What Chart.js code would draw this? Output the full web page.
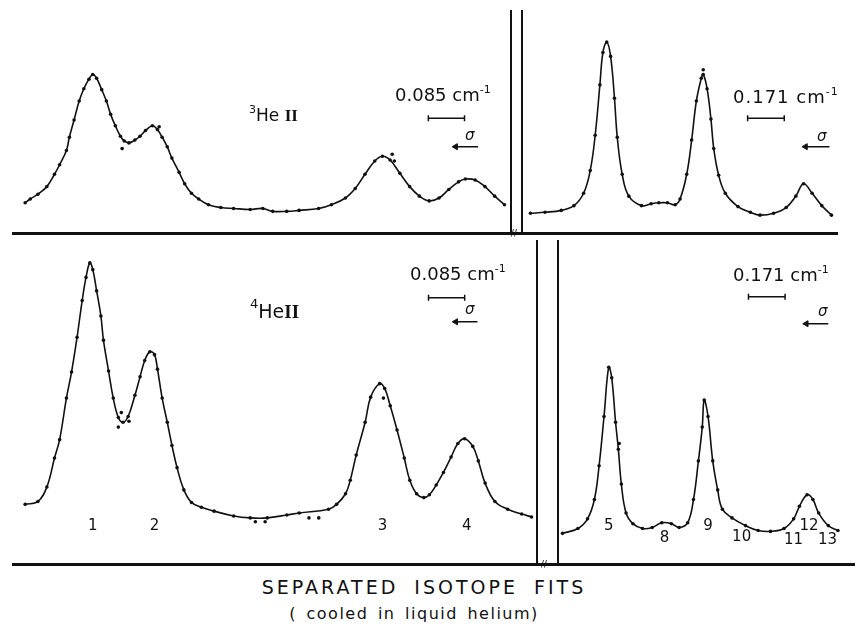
<!DOCTYPE html>
<html>
<head>
<meta charset="utf-8">
<script src="https://cdn.jsdelivr.net/npm/chart.js@4.4.0/dist/chart.umd.min.js"></script>
<style>
body { margin: 0; background: #fff; }
#fig { position: relative; width: 856px; height: 629px; overflow: hidden; font-family: "DejaVu Sans", sans-serif; color: #111; }
.panel { position: absolute; }
.rule { position: absolute; background: #111; }
.txt { position: absolute; white-space: nowrap; line-height: 1; }
.sup { position: relative; font-size: 11px; top: -8px; }
.rom { font-family: "Liberation Serif", serif; font-weight: bold; }
</style>
</head>
<body>
<div id="fig">
	<div class="panel" style="left:12px;top:10px;width:498px;height:223px"><canvas id="tl"></canvas></div>
	<div class="panel" style="left:523px;top:10px;width:315px;height:223px"><canvas id="tr"></canvas></div>
	<div class="panel" style="left:12px;top:240px;width:525px;height:323px"><canvas id="bl"></canvas></div>
	<div class="panel" style="left:557px;top:240px;width:298px;height:323px"><canvas id="br"></canvas></div>

	<!-- frame: axis lines and the scan breaks -->
	<div class="rule" style="left:12px;top:232px;width:826px;height:3px"></div>
	<div class="rule" style="left:12px;top:563px;width:843px;height:3px"></div>
	<div class="rule" style="left:510px;top:10px;width:2px;height:224px"></div>
	<div class="rule" style="left:521px;top:10px;width:2px;height:224px"></div>
	<div class="rule" style="left:536px;top:240px;width:2px;height:325px"></div>
	<div class="rule" style="left:557px;top:240px;width:2px;height:325px"></div>
	<div class="txt" style="left:511px;top:230px;font-size:8px;font-weight:bold">//</div>
	<div class="txt" style="left:541px;top:561px;font-size:8px;font-weight:bold">//</div>

	<div class="txt" style="left:249px;top:107px;font-size:17px"><span class="sup">3</span>He <span class="rom">II</span></div>
	<div class="txt" style="left:250px;top:302px;font-size:19px"><span class="sup" style="font-size:13px;top:-10px">4</span>He<span class="rom">II</span></div>

	<div class="txt" style="left:395px;top:86px;font-size:18px">0.085 cm<span class="sup">-1</span></div>
	<div class="txt" style="left:410px;top:265px;font-size:18px">0.085 cm<span class="sup">-1</span></div>
	<div class="txt" style="left:733px;top:88px;font-size:18px;letter-spacing:1px">0.171 cm<span class="sup">-1</span></div>
	<div class="txt" style="left:733px;top:266px;font-size:18px">0.171 cm<span class="sup">-1</span></div>

	<div class="txt" style="left:465px;top:128px;font-size:15px;font-style:italic">σ</div>
	<div class="txt" style="left:817px;top:129px;font-size:15px;font-style:italic">σ</div>
	<div class="txt" style="left:465px;top:302px;font-size:15px;font-style:italic">σ</div>
	<div class="txt" style="left:818px;top:304px;font-size:15px;font-style:italic">σ</div>

	<div class="txt" style="left:0;width:848px;text-align:center;top:578px;font-size:19px;letter-spacing:3px;word-spacing:7px">SEPARATED ISOTOPE FITS</div>
	<div class="txt" style="left:0;width:828px;text-align:center;top:606px;font-size:16px;letter-spacing:1.5px;word-spacing:3px">( cooled in liquid helium)</div>
</div>

<script>
// x: relative wavenumber in mK (1e-3 cm-1), y: intensity in arbitrary units
// left scans (lines 1-4)
var tlScan = [[18,26],[30,30],[48,35],[69,43],[87,56],[99,66],[115,81],[122,95],[133,113],[145,133],
	[156,146],[168,156],[177,161],[186,157],[198,145],[209,133],[219,119],[230,107],[242,96],[251,91],
	[262,89],[276,92],[288,96],[301,102],[317,107],[329,103],[340,95],[352,85],[363,73],[380,58],
	[393,46],[409,36],[426,30],[449,24],[478,21],[508,20],[547,19],[577,20],[600,17],[633,17],
	[662,18],[708,20],[738,24],[771,31],[794,41],[817,56],[840,70],[858,75],[876,71],[899,57],
	[922,43],[945,33],[968,28],[991,31],[1014,40],[1037,48],[1053,51],[1076,50],[1099,43],[1122,33],[1145,24]];
var tlStray = [[246,83],[333,106],[881,77],[886,70]];

var blScan = [[18,55],[48,58],[69,73],[87,103],[99,122],[115,165],[127,192],[140,228],[152,266],[161,290],
	[170,305],[177,298],[186,276],[196,250],[202,225],[214,193],[225,165],[237,145],[248,140],[260,146],
	[276,168],[288,187],[299,204],[311,213],[322,210],[329,195],[340,165],[352,140],[363,116],[375,93],
	[391,70],[409,57],[432,52],[462,48],[508,43],[547,41],[587,41],[633,44],[662,46],[731,50],
	[750,55],[771,66],[782,80],[796,106],[817,140],[830,166],[851,180],[863,175],[876,157],[892,132],
	[909,103],[922,80],[938,66],[955,62],[968,65],[984,75],[1001,88],[1019,104],[1035,118],[1051,123],
	[1070,115],[1083,100],[1099,77],[1122,58],[1152,50],[1185,45],[1208,42]];
var blStray = [[237,135],[244,150],[262,141],[860,165],[559,37],[582,37],[685,41],[708,41]];

// right scans (lines 5-13)
var trScan = [[9,15],[77,16],[153,18],[212,23],[257,36],[288,60],[311,97],[333,150],[347,184],[365,195],
	[383,180],[401,136],[414,95],[437,56],[468,33],[527,23],[572,25],[608,26],[648,26],[684,24],
	[707,30],[738,56],[761,92],[783,133],[806,157],[815,161],[833,146],[851,114],[864,83],[887,55],
	[918,36],[977,22],[1035,16],[1080,13],[1143,15],[1202,21],[1247,33],[1283,46],[1323,36],[1368,23],[1413,13]];
var trStray = [[815,166]];

var brScan = [[153,25],[225,30],[270,40],[302,60],[324,95],[347,146],[369,197],[383,186],[401,140],[414,112],
	[428,76],[450,46],[482,35],[527,30],[572,31],[617,36],[662,35],[698,31],[738,36],[765,60],
	[788,100],[806,135],[815,163],[833,146],[855,100],[878,70],[900,50],[945,41],[1008,33],[1067,28],
	[1125,27],[1188,30],[1233,40],[1260,53],[1296,65],[1323,60],[1350,46],[1395,33],[1440,28]];
var brStray = [[418,118]];

// line numbers under the bottom scans
var blLabels = [[177,33,"1"],[322,33,"2"],[858,33,"3"],[1056,33,"4"]];
var brLabels = [[369,33,"5"],[630,20,"8"],[833,33,"9"],[990,21,"10"],[1232,18,"11"],[1305,33,"12"],[1391,18,"13"]];

// scale bars (0.085 and 0.171 cm-1) and the sigma arrows
var leftBar = 85, rightBar = 171;

var ink = "#111";

function pts(arr) {
	return arr.map(function (p) { return {x: p[0], y: p[1]}; });
}

Chart.register({
	id: "peakLabels",
	afterDatasetsDraw: function (chart, args, opts) {
		var ctx = chart.ctx, xs = chart.scales.x, ys = chart.scales.y;
		ctx.save();
		ctx.font = '15px "DejaVu Sans"';
		ctx.fillStyle = ink;
		ctx.textAlign = "center";
		ctx.textBaseline = "middle";
		(opts.items || []).forEach(function (l) {
			ctx.fillText(l[2], xs.getPixelForValue(l[0]), ys.getPixelForValue(l[1]));
		});
		ctx.restore();
	}
});

function panel(id, xMin, xMax, yMax, scan, stray, barStart, barLen, barY, arrow, labels) {
	new Chart(document.getElementById(id), {
		type: "scatter",
		data: {
			datasets: [
				{ // fitted profile
					data: pts(scan), showLine: true, borderColor: ink, borderWidth: 1.6,
					pointRadius: 0, tension: 0.4, clip: 4
				},
				{ // measured points
					data: pts(scan.concat(stray)), showLine: false, pointRadius: 1.8,
					pointBackgroundColor: ink, pointBorderWidth: 0, clip: 4
				},
				{ // scale bar
					data: [{x: barStart, y: barY}, {x: barStart + barLen, y: barY}],
					showLine: true, borderColor: ink, borderWidth: 1.5,
					pointStyle: "line", rotation: 90, pointRadius: 3, pointBorderColor: ink, pointBorderWidth: 1.5
				},
				{ // direction of increasing wavenumber
					data: [{x: arrow[0], y: arrow[2]}, {x: arrow[1], y: arrow[2]}],
					showLine: true, borderColor: ink, borderWidth: 1.5,
					pointStyle: "triangle", rotation: -90, pointRadius: [3.5, 0],
					pointBackgroundColor: ink, pointBorderColor: ink, pointBorderWidth: 1
				}
			]
		},
		options: {
			responsive: true,
			maintainAspectRatio: false,
			animation: false,
			layout: {padding: 0},
			scales: {
				x: {type: "linear", display: false, min: xMin, max: xMax},
				y: {display: false, min: 0, max: yMax}
			},
			plugins: {
				legend: {display: false},
				tooltip: {enabled: false},
				peakLabels: {items: labels}
			}
		}
	});
}

panel("tl", 0, 1145, 223, tlScan, tlStray, 966, leftBar, 115, [1030, 1083, 85], []);
panel("tr", 0, 1418, 223, trScan, trStray, 1022, rightBar, 115, [1292, 1404, 85], []);
panel("bl", 0, 1208, 323, blScan, blStray, 966, leftBar, 269, [1030, 1081, 244], blLabels);
panel("br", 153, 1494, 323, brScan, brStray, 1022, rightBar, 270, [1292, 1395, 242], brLabels);
</script>
</body>
</html>
